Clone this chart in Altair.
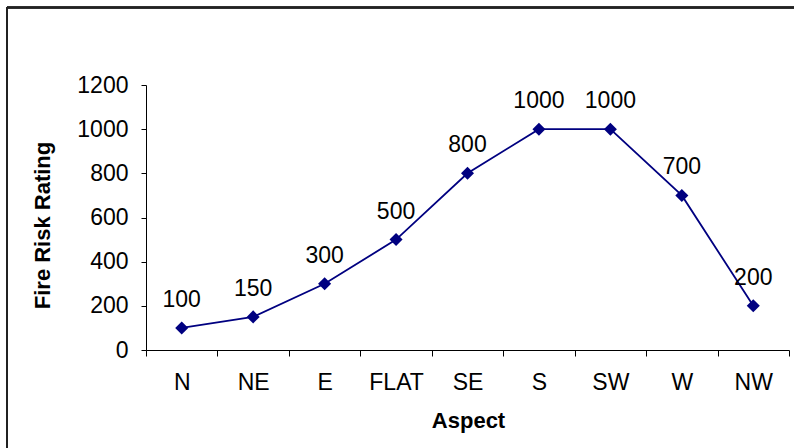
import altair as alt
import pandas as pd

# Fire risk rating by slope aspect
aspects = ["N", "NE", "E", "FLAT", "SE", "S", "SW", "W", "NW"]
ratings = [100, 150, 300, 500, 800, 1000, 1000, 700, 200]

df = pd.DataFrame({"Aspect": aspects, "Rating": ratings})

FONT = "Liberation Sans"
NAVY = "#000080"

x_enc = alt.X(
    "Aspect:N",
    sort=aspects,
    scale=alt.Scale(paddingInner=0, paddingOuter=0),
    axis=alt.Axis(
        title="Aspect",
        tickBand="extent",
        labelAngle=0,
        labelBaseline="alphabetic",
        labelPadding=33,
        tickSize=6,
        titleX=322,
        titleY=77,
        titleBaseline="alphabetic",
    ),
)
y_enc = alt.Y(
    "Rating:Q",
    scale=alt.Scale(domain=[0, 1200], nice=False),
    axis=alt.Axis(
        title="Fire Risk Rating",
        values=[0, 200, 400, 600, 800, 1000, 1200],
        format="d",
        tickSize=5,
        labelPadding=13,
        titleX=-97,
        titleY=140,
        titleAngle=-90,
        titleAlign="center",
        titleBaseline="alphabetic",
    ),
)

base = alt.Chart(df).encode(x=x_enc, y=y_enc)

line = base.mark_line(color=NAVY, strokeWidth=1.8)
points = base.mark_point(
    shape="diamond", filled=True, color=NAVY, size=170, opacity=1
)
labels = base.mark_text(
    baseline="alphabetic", align="center", dy=-21, fontSize=23, font=FONT, color="black"
).encode(text="Rating:Q")

# outer frame lines (top and left edges)
frame_top = alt.Chart(df).mark_rule(color="#222222", strokeWidth=1.5, clip=False).encode(
    x=alt.value(-139), x2=alt.value(700), y=alt.value(-77.5)
)
frame_left = alt.Chart(df).mark_rule(color="#222222", strokeWidth=1.5, clip=False).encode(
    x=alt.value(-139), y=alt.value(-77.5), y2=alt.value(420)
)

chart = (
    alt.layer(frame_top, frame_left, line, points, labels)
    .properties(
        width=643,
        height=265,
        autosize=alt.AutoSizeParams(type="none"),
        padding={"left": 146, "top": 85, "right": 5, "bottom": 98},
        background="white",
    )
    .configure_view(stroke=None)
    .configure_axis(
        grid=False,
        domainColor="black",
        domainWidth=1,
        tickColor="black",
        tickWidth=1,
        labelFont=FONT,
        labelFontSize=23,
        labelColor="black",
        titleFont=FONT,
        titleFontSize=22,
        titleFontWeight="bold",
        titleColor="black",
    )
)

chart.save("out.html", embed_options={"renderer": "svg", "actions": False})
